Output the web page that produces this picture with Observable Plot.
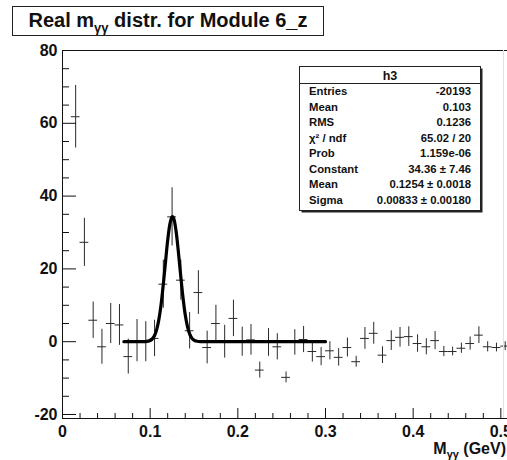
<!DOCTYPE html>
<html><head><meta charset="utf-8">
<script src="https://cdn.jsdelivr.net/npm/d3@7"></script>
<script src="https://cdn.jsdelivr.net/npm/@observablehq/plot@0.6"></script>
<style>
body{margin:0;background:#fff;}
#chart{position:relative;width:507px;height:460px;overflow:hidden;}
</style></head><body><div id="chart"></div>
<script>
// ---- data ----
const binCenters = [0.015,0.025,0.035,0.045,0.055,0.065,0.075,0.085,0.095,0.105,
  0.115,0.125,0.135,0.145,0.155,0.165,0.175,0.185,0.195,0.205,
  0.215,0.225,0.235,0.245,0.255,0.265,0.275,0.285,0.295,0.305,
  0.315,0.325,0.335,0.345,0.355,0.365,0.375,0.385,0.395,0.405,
  0.415,0.425,0.435,0.445,0.455,0.465,0.475,0.485,0.495,0.505];
const counts = [61.8,27.3,5.9,-1.4,5.0,4.6,-4.1,0.3,0.0,0.9,
  15.8,34.3,16.9,3.0,13.5,-1.6,5.0,0.0,6.4,0.0,
  0.5,-7.8,-0.2,-1.4,-9.8,-0.2,0.6,-2.7,-4.1,-2.5,
  -4.3,-1.6,-5.5,0.9,2.3,-3.7,0.3,1.2,1.4,-0.5,
  -1.4,0.3,-2.7,-2.7,-1.8,-0.5,1.8,-1.4,-1.6,-1.2];
const errors = [8.6,6.6,5.0,4.8,5.5,5.6,4.8,5.8,5.5,5.0,
  6.6,8.0,5.5,5.0,6.0,4.5,5.0,4.5,5.0,4.0,
  4.2,2.2,3.8,3.6,1.5,3.5,3.6,2.9,2.5,2.5,
  2.4,2.6,1.5,3.0,3.0,2.3,2.7,2.7,2.7,2.4,
  2.2,2.5,1.4,1.2,1.4,1.8,2.3,1.4,1.2,1.2];
const binWidth = 0.01;
const fitX = [0.07,0.09,0.095,0.1,0.1025,0.105,0.1075,0.11,0.1125,0.115,0.1175,0.12,0.1225,0.125,0.1254,
  0.1275,0.13,0.1325,0.135,0.1375,0.14,0.1425,0.145,0.1475,0.15,0.1525,0.155,0.16,0.3];
const fitY = [0,0,0.04,0.33,0.78,1.71,3.4,6.2,10.3,15.8,21.9,27.9,32.3,34.3,34.36,
  33.3,29.5,23.9,17.7,12.0,7.4,4.2,2.16,1.0,0.44,0.17,0.06,0,0];
const xMajorTicks = [0,0.1,0.2,0.3,0.4,0.5];
const xTickLabels = ["0","0.1","0.2","0.3","0.4","0.5"];
const xMinorTicks = [0.02,0.04,0.06,0.08,0.12,0.14,0.16,0.18,0.22,0.24,0.26,0.28,0.32,0.34,0.36,0.38,0.42,0.44,0.46,0.48];
const yMajorTicks = [-20,0,20,40,60,80];
const yTickLabels = ["-20","0","20","40","60","80"];
const yMinorTicks = [-15,-10,-5,5,10,15,25,30,35,45,50,55,65,70,75];
const xDomain = [0,0.5076];
const yDomain = [-21.1,80];
const titleParts = ["Real m","γγ"," distr. for Module 6_z"];
const xTitleParts = ["M","γγ"," (GeV)"];
const histName = "h3";
const statLabels = ["Entries","Mean","RMS","χ² / ndf","Prob","Constant","Mean","Sigma"];
const statValues = ["-20193","0.103","0.1236","65.02 / 20","1.159e-06","34.36 ± 7.46","0.1254 ± 0.0018","0.00833 ± 0.00180"];

// ---- layout ----
const W=507,H=460,mL=62,mT=50,mB=42,mR=0;
const frameW=W-mL-mR, frameH=H-mT-mB;
const font='"Liberation Sans", Arial, Helvetica, sans-serif';
const ink="#111";
const data = binCenters.map((x,i)=>({x, y:counts[i], e:errors[i]}));
const fit = fitX.map((x,i)=>({x, y:fitY[i]}));

const plot = Plot.plot({
  width:W, height:H, marginLeft:mL, marginRight:mR, marginTop:mT, marginBottom:mB,
  x:{domain:xDomain, axis:null}, y:{domain:yDomain, axis:null},
  style:{fontFamily:font, background:"white", color:ink},
  marks:[
    // error bars
    Plot.ruleX(data, {x:"x", y1:d=>d.y-d.e, y2:d=>d.y+d.e, stroke:"#2a2a2a", strokeWidth:1, clip:true}),
    Plot.ruleY(data, {y:"y", x1:d=>d.x-binWidth/2, x2:d=>d.x+binWidth/2, stroke:"#2a2a2a", strokeWidth:1, clip:true}),
    // fit
    Plot.line(fit, {x:"x", y:"y", curve:"monotone-x", stroke:"#000", strokeWidth:3.2}),
    // frame
    Plot.ruleY([yDomain[1]], {stroke:ink}),
    Plot.ruleY([yDomain[0]], {stroke:ink}),
    Plot.ruleX([xDomain[0]], {stroke:ink}),
    // ticks (drawn inside the frame)
    Plot.tickX(xMinorTicks, {x:d=>d, insetTop:frameH-5, stroke:ink}),
    Plot.tickX(xMajorTicks, {x:d=>d, insetTop:frameH-10, stroke:ink}),
    Plot.tickY(yMinorTicks, {y:d=>d, insetRight:frameW-7, stroke:ink}),
    Plot.tickY(yMajorTicks, {y:d=>d, insetRight:frameW-14, stroke:ink}),
    // tick labels
    Plot.text(xMajorTicks, {x:d=>d, text:(d,i)=>xTickLabels[i], frameAnchor:"bottom", dy:13, lineAnchor:"middle", textAnchor:"middle", fontSize:16, fontWeight:"bold", fill:ink}),
    Plot.text(yMajorTicks, {y:d=>d, text:(d,i)=>yTickLabels[i], frameAnchor:"left", dx:-5, lineAnchor:"middle", textAnchor:"end", fontSize:16, fontWeight:"bold", fill:ink})
  ]
});
document.getElementById("chart").appendChild(plot);

const svg = d3.select(plot);
// faint edge line seen in the picture
svg.append("line").attr("x1",503.5).attr("x2",503.5).attr("y1",mT).attr("y2",H-mB).attr("stroke","#e2e2e2");

// x axis title
const xt = svg.append("text").attr("x",506).attr("y",454).attr("text-anchor","end")
  .attr("font-family",font).attr("font-size",16).attr("font-weight","bold").attr("fill",ink);
xt.append("tspan").text(xTitleParts[0]);
xt.append("tspan").attr("font-size",11).attr("dy",4).text(xTitleParts[1]);
xt.append("tspan").attr("dy",-4).text(xTitleParts[2]);

// title box
svg.append("rect").attr("x",12.5).attr("y",6.5).attr("width",311).attr("height",29).attr("fill","white").attr("stroke","#222");
const tt = svg.append("text").attr("x",168).attr("y",26.5).attr("text-anchor","middle")
  .attr("font-family",font).attr("font-size",20).attr("font-weight","bold").attr("fill",ink);
tt.append("tspan").text(titleParts[0]);
tt.append("tspan").attr("font-size",13).attr("dy",5).text(titleParts[1]);
tt.append("tspan").attr("dy",-5).text(titleParts[2]);

// stats box
const bx=299.5, by=66.5, bw=181, bh=144;
svg.append("rect").attr("x",bx+2).attr("y",by+2).attr("width",bw).attr("height",bh).attr("fill","#222");
svg.append("rect").attr("x",bx).attr("y",by).attr("width",bw).attr("height",bh).attr("fill","white").attr("stroke","#222");
svg.append("line").attr("x1",bx).attr("x2",bx+bw).attr("y1",83.5).attr("y2",83.5).attr("stroke","#222");
svg.append("text").attr("x",bx+bw/2).attr("y",79.5).attr("text-anchor","middle")
  .attr("font-family",font).attr("font-size",12.5).attr("font-weight","bold").attr("fill",ink).text(histName);
statLabels.forEach((lab,i)=>{
  const yb = 91 + i*15.5 + 4.1;
  svg.append("text").attr("x",309).attr("y",yb).attr("text-anchor","start").attr("font-family",font).attr("font-size",11.3)
    .attr("font-weight","bold").attr("fill",ink).text(lab);
  svg.append("text").attr("x",471).attr("y",yb).attr("text-anchor","end").attr("font-family",font).attr("font-size",11.3)
    .attr("font-weight","bold").attr("fill",ink).text(statValues[i]);
});
</script></body></html>
